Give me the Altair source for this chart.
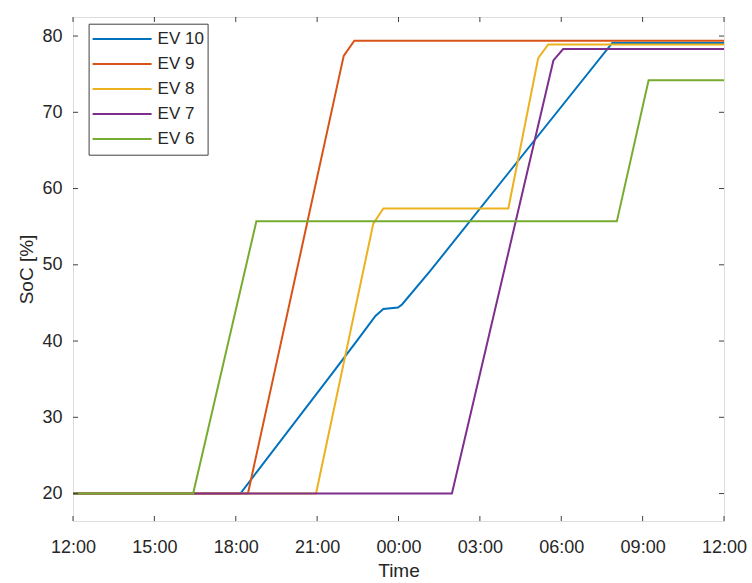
import altair as alt
import pandas as pd

# hours after 12:00 (day 1) and SoC [%]
series = ["EV 10", "EV 9", "EV 8", "EV 7", "EV 6"]
colors = ["#0072BD", "#D95319", "#EDB120", "#7E2F8E", "#77AC30"]

ev10_t = [0, 6.17, 9.48, 10.5, 11.15, 11.44, 11.98, 12.13, 13.17, 19.88, 24]
ev10_v = [20, 20, 35.4, 40.2, 43.3, 44.2, 44.4, 44.8, 49.2, 79.1, 79.1]
ev9_t = [0, 6.45, 9.98, 10.37, 24]
ev9_v = [20, 20, 77.4, 79.4, 79.4]
ev8_t = [0, 8.96, 11.07, 11.44, 16.05, 17.15, 17.52, 24]
ev8_v = [20, 20, 55.4, 57.4, 57.4, 77.1, 78.9, 78.9]
ev7_t = [0, 13.97, 17.71, 18.07, 24]
ev7_v = [20, 20, 76.8, 78.3, 78.3]
ev6_t = [0, 4.43, 6.76, 20.05, 21.22, 24]
ev6_v = [20, 20, 55.7, 55.7, 74.2, 74.2]

x_ticks = [0, 3, 6, 9, 12, 15, 18, 21, 24]
y_ticks = [20, 30, 40, 50, 60, 70, 80]

rows = []
for name, ts, vs in zip(series,
                        [ev10_t, ev9_t, ev8_t, ev7_t, ev6_t],
                        [ev10_v, ev9_v, ev8_v, ev7_v, ev6_v]):
    for i, (t, v) in enumerate(zip(ts, vs)):
        rows.append({"series": name, "t": t, "soc": v, "i": i})
df = pd.DataFrame(rows)

W, H = 651, 504
FONT = "Liberation Sans"
AX = "#404040"
TXT = "#262626"

xscale = alt.Scale(domain=[0, 24], nice=False, zero=False)
yscale = alt.Scale(domain=[16.4, 82.5], nice=False, zero=False)

xaxis = alt.Axis(title="Time", values=x_ticks, domain=False, ticks=False, grid=False,
                 labelExpr="format((datum.value + 12) % 24, '02d') + ':00'",
                 labelFlush=False, labelOverlap=False,
                 labelFontSize=18, labelColor=TXT, labelFont=FONT, labelPadding=17,
                 titleFontSize=19, titleColor=TXT, titleFont=FONT, titleFontWeight="normal",
                 titlePadding=5)
yaxis = alt.Axis(title="SoC [%]", values=y_ticks, domain=False, ticks=False, grid=False,
                 labelFlush=False, labelOverlap=False,
                 labelFontSize=18, labelColor=TXT, labelFont=FONT, labelPadding=11,
                 titleFontSize=19, titleColor=TXT, titleFont=FONT, titleFontWeight="normal",
                 titlePadding=5)

lines = alt.Chart(df).mark_line(strokeWidth=2, clip=True).encode(
    x=alt.X("t:Q", scale=xscale, axis=xaxis),
    y=alt.Y("soc:Q", scale=yscale, axis=yaxis),
    color=alt.Color("series:N", scale=alt.Scale(domain=series, range=colors),
                    legend=alt.Legend(title=None, orient="none", legendX=15.6, legendY=6.7,
                                      symbolType="stroke", symbolSize=3481, symbolStrokeWidth=2,
                                      clipHeight=24.7, rowPadding=0, labelOffset=5,
                                      labelFontSize=17, labelFont=FONT, labelColor=TXT,
                                      padding=3, strokeColor=AX, fillColor="white",
                                      cornerRadius=0)),
    order="i:Q",
)

xt = pd.DataFrame({"t": x_ticks})
yt = pd.DataFrame({"soc": y_ticks})
tick_col = AX
xb = alt.Chart(xt).mark_rule(color=tick_col, strokeWidth=1).encode(
    x=alt.X("t:Q", scale=xscale, axis=xaxis), y=alt.value(H), y2=alt.value(H - 5))
xtop = alt.Chart(xt).mark_rule(color=tick_col, strokeWidth=1).encode(
    x=alt.X("t:Q", scale=xscale, axis=xaxis), y=alt.value(0), y2=alt.value(5))
yl = alt.Chart(yt).mark_rule(color=tick_col, strokeWidth=1).encode(
    y=alt.Y("soc:Q", scale=yscale, axis=yaxis), x=alt.value(0), x2=alt.value(5))
yr = alt.Chart(yt).mark_rule(color=tick_col, strokeWidth=1).encode(
    y=alt.Y("soc:Q", scale=yscale, axis=yaxis), x=alt.value(W - 5), x2=alt.value(W))

chart = alt.layer(lines, xb, xtop, yl, yr).properties(
    width=W, height=H,
    autosize=alt.AutoSizeParams(type="none"),
    padding={"left": 73, "top": 17, "right": 28, "bottom": 62},
).configure_view(stroke=AX, strokeWidth=1).configure(background="white")

chart.save("out.html", embed_options={"renderer": "svg", "actions": False})
